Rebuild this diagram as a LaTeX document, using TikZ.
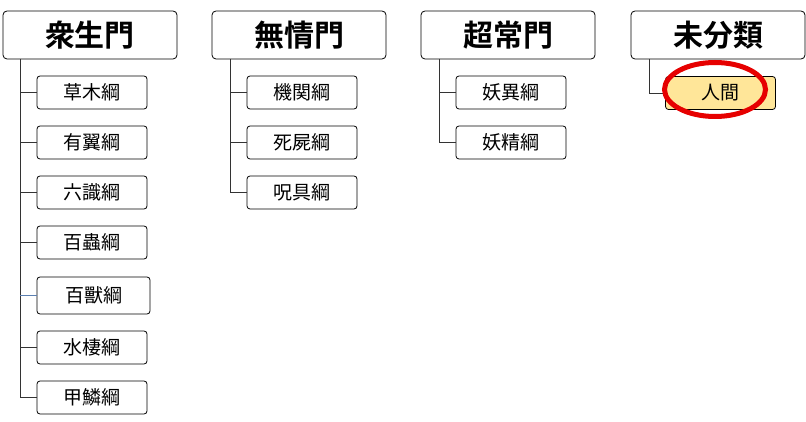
\documentclass[tikz,border=0pt]{standalone}
\usepackage{fontspec}
\usetikzlibrary{shapes.geometric}
\newfontfamily\cjk{Noto Sans CJK JP}
\newfontfamily\cjkb{Noto Sans CJK JP Bold}
\begin{document}
\begin{tikzpicture}[x=1pt,y=-1pt,
  hdr/.style={draw=black, line width=0.8pt, rounded corners=4pt, minimum width=174pt, minimum height=48pt, inner sep=0pt, font=\cjkb\fontsize{30}{30}\selectfont, text=black, fill=white},
  kid/.style={draw=black, line width=0.8pt, rounded corners=3pt, minimum width=110pt, minimum height=33pt, inner sep=0pt, font=\cjk\fontsize{19}{19}\selectfont, text=black, fill=white},
  conn/.style={draw=black!80, line width=0.8pt}]
\useasboundingbox (0,0) rectangle (806,422);
% headers
\node[hdr] (h1) at (90,35) {衆生門};
\node[hdr] (h2) at (299,35) {無情門};
\node[hdr] (h3) at (508,35) {超常門};
\node[hdr] (h4) at (718,35) {未分類};
% column 1
\node[kid] (a1) at (92,92.5) {草木綱};
\node[kid] (a2) at (92,142.5) {有翼綱};
\node[kid] (a3) at (92,192.5) {六識綱};
\node[kid] (a4) at (92,242.5) {百蟲綱};
\node[kid, minimum width=113pt, minimum height=37pt] (a5) at (93.5,295.5) {百獸綱};
\node[kid] (a6) at (92,347.5) {水棲綱};
\node[kid] (a7) at (92,397.5) {甲鱗綱};
\coordinate (v1) at (20,59);
\draw[conn] (v1) |- (a7.west);
\foreach \n in {a1,a2,a3,a4,a6} \draw[conn] (v1 |- \n.west) -- (\n.west);
\draw[draw={rgb,255:red,91;green,127;blue,176}, line width=0.8pt] (v1 |- a5.west) -- (a5.west);
% column 2
\node[kid] (b1) at (302,92.5) {機関綱};
\node[kid] (b2) at (302,142.5) {死屍綱};
\node[kid] (b3) at (302,192.5) {呪具綱};
\coordinate (v2) at (230,59);
\draw[conn] (v2) |- (b3.west);
\foreach \n in {b1,b2} \draw[conn] (v2 |- \n.west) -- (\n.west);
% column 3
\node[kid] (c1) at (511,92.5) {妖異綱};
\node[kid] (c2) at (511,142.5) {妖精綱};
\coordinate (v3) at (439,59);
\draw[conn] (v3) |- (c2.west);
\draw[conn] (v3 |- c1.west) -- (c1.west);
% column 4
\node[kid, fill={rgb,255:red,255;green,230;blue,153}] (d1) at (720.5,93) {人間};
\coordinate (v4) at (649,59);
\draw[conn] (v4) |- (d1.west);
\node[draw={rgb,255:red,230;green,0;blue,0}, line width=5pt, ellipse, minimum width=101pt, minimum height=54pt, inner sep=0pt] (ring) at (715,89.5) {};
\end{tikzpicture}
\end{document}
